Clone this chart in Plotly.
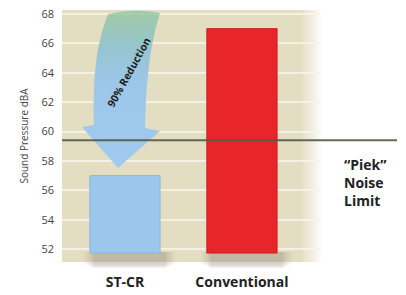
import numpy as np
import plotly.graph_objects as go

# ---- data ----
categories = ["ST-CR", "Conventional"]
values = [57.0, 67.0]
bar_colors = ["rgb(155,199,236)", "rgb(232,38,42)"]
y_ticks = [52, 54, 56, 58, 60, 62, 64, 66, 68]
noise_limit = 59.4
y_title = "Sound Pressure dBA"
arrow_text = "90% Reduction"
limit_text = "<b>\u201cPiek\u201d<br>Noise<br>Limit</b>"

# ---- layout geometry ----
W, H = 406, 295
L, R, T, B = 62, 86, 10, 33
PW, PH = W - L - R, H - T - B
y_range = [51.12, 68.27]
x_range = [-0.538, 1.667]
base = 51.73
bar_w = 0.6

def dx(px):  # pixel -> data x
    return x_range[0] + (px - L) / PW * (x_range[1] - x_range[0])

def dy(py):  # pixel -> data y
    return y_range[1] - (py - T) / PH * (y_range[1] - y_range[0])

def px_paper(px):
    return (px - L) / PW

def py_paper(py):
    return (H - B - py) / PH

def xdata_paper(xd):
    return (xd - x_range[0]) / (x_range[1] - x_range[0])

fig = go.Figure()

shapes = []
# background (beige, fading at right)
shapes.append(dict(type="rect", xref="paper", yref="paper", layer="below",
                   x0=0, x1=px_paper(300), y0=0, y1=1, line=dict(width=0),
                   fillcolor="rgb(227,221,194)"))
n = 12
for k in range(n):
    a = 1 - (k + 0.5) / n
    shapes.append(dict(type="rect", xref="paper", yref="paper", layer="below",
                       x0=px_paper(300 + k * 22 / n), x1=px_paper(300 + (k + 1) * 22 / n) + 0.001,
                       y0=0, y1=1, line=dict(width=0),
                       fillcolor=f"rgba(227,221,194,{a:.2f})"))

# bar shadows (soft, below each bar)
for i in range(len(categories)):
    for k, a in enumerate([0.10, 0.08, 0.06, 0.05, 0.04]):
        shapes.append(dict(type="rect", xref="paper", yref="paper", layer="below",
                           x0=xdata_paper(i - bar_w / 2 + 0.03 - 0.02 * k),
                           x1=xdata_paper(i + bar_w / 2 + 0.05 + 0.02 * k),
                           y0=py_paper(268 - k), y1=py_paper(252), line=dict(width=0),
                           fillcolor=f"rgba(120,105,100,{a})"))

# bars
fig.add_trace(go.Bar(x=list(range(len(categories))), y=[v - base for v in values], base=base,
                     width=bar_w, marker=dict(color=bar_colors,
                                              line=dict(color=["rgb(140,185,225)", "rgb(205,30,35)"], width=1)),
                     hoverinfo="skip", showlegend=False))

# curved arrow (decoration)
def qbez(p0, p1, p2, n=20):
    t = np.linspace(0, 1, n)[:, None]
    p0, p1, p2 = map(np.array, (p0, p1, p2))
    return (1 - t) ** 2 * p0 + 2 * (1 - t) * t * p1 + t ** 2 * p2

left = qbez((108, 14), (91, 55), (94, 125))
right = qbez((145, 128), (146, 55), (160, 13))
top = qbez((160, 13), (134, 8), (108, 14), 10)
pts = np.vstack([left, [(82, 127), (118, 168), (160, 131)], right, top])
fig.add_trace(go.Scatter(x=[dx(p[0]) for p in pts], y=[dy(p[1]) for p in pts],
                         mode="lines", fill="toself", line=dict(width=0),
                         fillgradient=dict(type="vertical",
                                           colorscale=[[0, "rgb(162,202,240)"], [0.55, "rgb(156,198,234)"],
                                                       [0.78, "rgb(150,198,205)"], [1, "rgba(140,195,160,0.75)"]]),
                         hoverinfo="skip", showlegend=False))

# noise limit line
shapes.append(dict(type="line", xref="paper", yref="y", layer="above",
                   x0=0, x1=px_paper(397), y0=noise_limit, y1=noise_limit,
                   line=dict(color="rgba(85,88,72,0.9)", width=2)))

fig.update_layout(
    width=W, height=H, margin=dict(l=L, r=R, t=T, b=B, autoexpand=False),
    paper_bgcolor="white", plot_bgcolor="rgba(0,0,0,0)",
    shapes=shapes,
    font=dict(family="Open Sans, sans-serif", color="#333"),
    xaxis=dict(range=x_range, tickvals=list(range(len(categories))), ticktext=categories,
               showgrid=False, zeroline=False, showline=False, ticks="", automargin=False,
               ticklabelstandoff=10,
               tickfont=dict(size=14, color="#222", weight="bold")),
    yaxis=dict(range=y_range, tickvals=y_ticks, showgrid=True,
               gridcolor="rgba(248,245,232,0.85)", gridwidth=2, zeroline=False,
               showline=False, ticks="", ticklabelstandoff=7, automargin=False,
               tickfont=dict(size=11, color="#444"),
               title=dict(text=y_title, font=dict(size=10, color="#444"), standoff=10)),
    annotations=[
        dict(text=arrow_text, x=px_paper(129), y=py_paper(72), xref="paper", yref="paper",
             xanchor="center", yanchor="middle",
             showarrow=False, textangle=-61, font=dict(size=10.5, color="#1e1e1e", weight="bold")),
        dict(text=limit_text, x=px_paper(342), y=py_paper(182), xref="paper", yref="paper",
             xanchor="left", yanchor="middle", align="left", showarrow=False,
             font=dict(size=14, color="#222")),
    ],
)

fig.write_html("out.html", config={"displayModeBar": False},
               post_script="document.body.style.margin='0';document.body.style.overflow='hidden';")
